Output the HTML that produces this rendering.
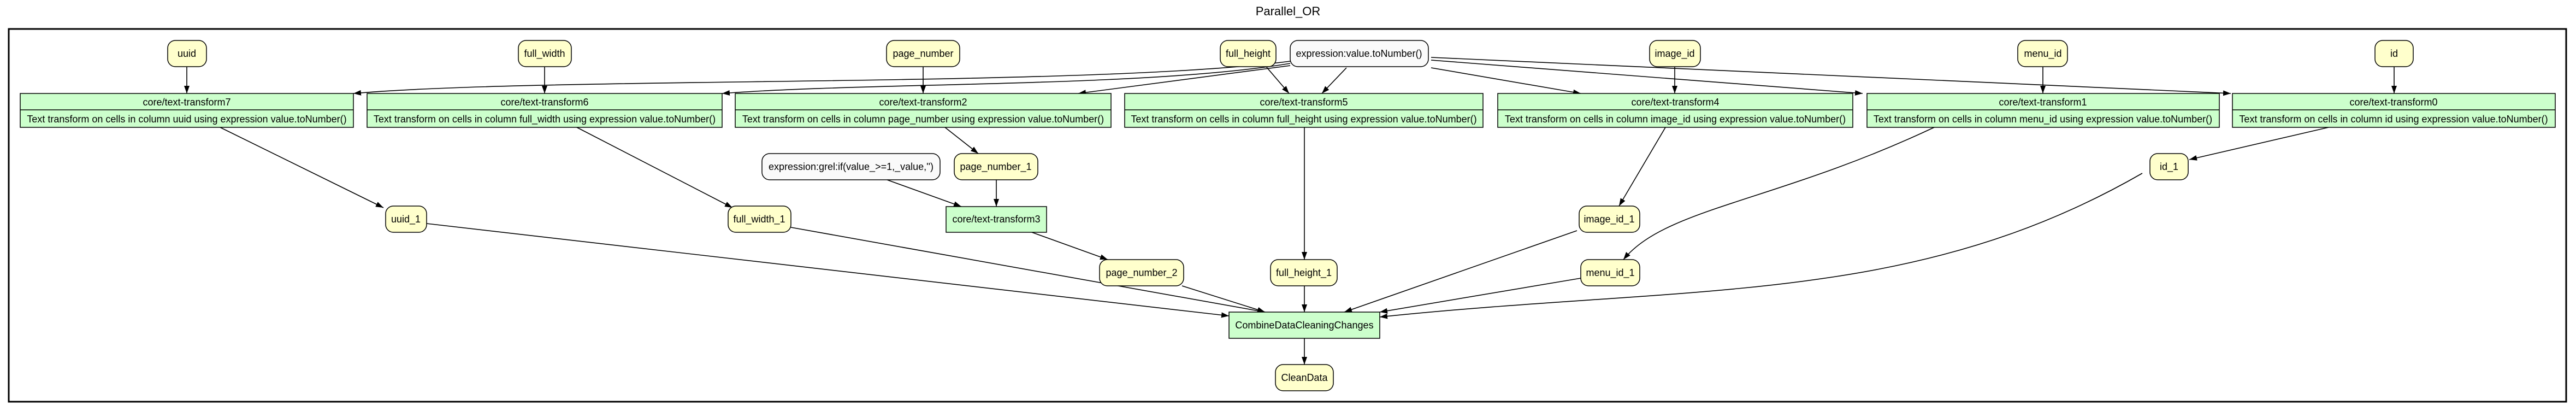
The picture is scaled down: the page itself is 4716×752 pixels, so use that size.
<!DOCTYPE html>
<html><head><meta charset="utf-8"><style>
html,body{margin:0;padding:0;background:#fff;}
svg{display:block;}
text{font-family:"Liberation Sans",Arial,sans-serif;font-size:18px;fill:#000;}
.y{fill:#ffffcc;stroke:#000;stroke-width:1.5;}
.w{fill:#fafafa;stroke:#000;stroke-width:1.5;}
.g{fill:#ccffcc;stroke:#000;stroke-width:1.5;}
.e{fill:none;stroke:#000;stroke-width:1.6;}
</style></head><body>
<svg width="4716" height="752" viewBox="0 0 4716 752" xmlns="http://www.w3.org/2000/svg">
<defs><marker id="a" viewBox="0 0 14 10" refX="14" refY="5" markerWidth="14" markerHeight="10" markerUnits="userSpaceOnUse" orient="auto"><path d="M0,0 L14,5 L0,10 z" fill="#000"/></marker></defs>
<text x="2358" y="28" text-anchor="middle" style="font-size:22px">Parallel_OR</text>
<rect x="16" y="53" width="4682" height="682" fill="none" stroke="#000" stroke-width="3"/>

<!-- edges -->
<g class="e" marker-end="url(#a)">
<path d="M342,122 L342,171"/>
<path d="M997,122 L997,171"/>
<path d="M1690,122 L1690,171"/>
<path d="M3066,122 L3066,171"/>
<path d="M3740,122 L3740,171"/>
<path d="M4383,122 L4383,171"/>
<path d="M2318,122 L2360,171"/>
<path d="M2465,124 L2420,171"/>
<path d="M2362,120 C2000,150 1700,150 1974,171" style="display:none"/>
<path d="M2362,120 L1974,171"/>
<path d="M2362,116 C2100,160 1600,150 1322,171"/>
<path d="M2362,112 C2000,160 1000,140 647,171"/>
<path d="M2620,124 L2894,171"/>
<path d="M2620,110 L3410,171"/>
<path d="M2620,105 L4084,171"/>
<path d="M403,233 L702,380"/>
<path d="M1056,233 L1341,380"/>
<path d="M1730,233 L1791,281"/>
<path d="M2388,233 L2388,475"/>
<path d="M3049,233 L2964,377"/>
<path d="M3541,233 C3250,370 3050,380 2972,475"/>
<path d="M4263,233 L4008,292"/>
<path d="M1624,329 L1760,378"/>
<path d="M1824,329 L1824,378"/>
<path d="M1889,425 L2028,475"/>
<path d="M781,409 L2250,578"/>
<path d="M1448,416 L2316,571"/>
<path d="M2164,523 L2316,571"/>
<path d="M2388,522 L2388,571"/>
<path d="M2887,422 L2461,571"/>
<path d="M2894,509 L2526,571"/>
<path d="M3922,317 C3500,560 3100,520 2526,580"/>
<path d="M2388,619 L2388,667"/>
</g>

<!-- top input nodes -->
<rect class="y" x="307" y="74" width="71" height="48" rx="14"/><text x="342" y="104" text-anchor="middle">uuid</text>
<rect class="y" x="949" y="74" width="97" height="48" rx="14"/><text x="997" y="104" text-anchor="middle">full_width</text>
<rect class="y" x="1623" y="74" width="134" height="48" rx="14"/><text x="1690" y="104" text-anchor="middle">page_number</text>
<rect class="y" x="2234" y="74" width="102" height="48" rx="14"/><text x="2285" y="104" text-anchor="middle">full_height</text>
<rect class="w" x="2362" y="74" width="253" height="48" rx="14"/><text x="2488" y="104" text-anchor="middle">expression:value.toNumber()</text>
<rect class="y" x="3020" y="74" width="93" height="48" rx="14"/><text x="3066" y="104" text-anchor="middle">image_id</text>
<rect class="y" x="3694" y="74" width="91" height="48" rx="14"/><text x="3740" y="104" text-anchor="middle">menu_id</text>
<rect class="y" x="4348" y="74" width="70" height="48" rx="14"/><text x="4383" y="104" text-anchor="middle">id</text>

<!-- transforms -->
<g>
<rect class="g" x="37" y="171" width="610" height="62"/><line x1="37" y1="201" x2="647" y2="201" stroke="#000" stroke-width="1.5"/>
<text x="342" y="193" text-anchor="middle">core/text-transform7</text>
<text x="342" y="224" text-anchor="middle">Text transform on cells in column uuid using expression value.toNumber()</text>

<rect class="g" x="672" y="171" width="650" height="62"/><line x1="672" y1="201" x2="1322" y2="201" stroke="#000" stroke-width="1.5"/>
<text x="997" y="193" text-anchor="middle">core/text-transform6</text>
<text x="997" y="224" text-anchor="middle">Text transform on cells in column full_width using expression value.toNumber()</text>

<rect class="g" x="1346" y="171" width="688" height="62"/><line x1="1346" y1="201" x2="2034" y2="201" stroke="#000" stroke-width="1.5"/>
<text x="1690" y="193" text-anchor="middle">core/text-transform2</text>
<text x="1690" y="224" text-anchor="middle">Text transform on cells in column page_number using expression value.toNumber()</text>

<rect class="g" x="2059" y="171" width="656" height="62"/><line x1="2059" y1="201" x2="2715" y2="201" stroke="#000" stroke-width="1.5"/>
<text x="2387" y="193" text-anchor="middle">core/text-transform5</text>
<text x="2387" y="224" text-anchor="middle">Text transform on cells in column full_height using expression value.toNumber()</text>

<rect class="g" x="2742" y="171" width="650" height="62"/><line x1="2742" y1="201" x2="3392" y2="201" stroke="#000" stroke-width="1.5"/>
<text x="3067" y="193" text-anchor="middle">core/text-transform4</text>
<text x="3067" y="224" text-anchor="middle">Text transform on cells in column image_id using expression value.toNumber()</text>

<rect class="g" x="3418" y="171" width="645" height="62"/><line x1="3418" y1="201" x2="4063" y2="201" stroke="#000" stroke-width="1.5"/>
<text x="3740" y="193" text-anchor="middle">core/text-transform1</text>
<text x="3740" y="224" text-anchor="middle">Text transform on cells in column menu_id using expression value.toNumber()</text>

<rect class="g" x="4087" y="171" width="591" height="62"/><line x1="4087" y1="201" x2="4678" y2="201" stroke="#000" stroke-width="1.5"/>
<text x="4382" y="193" text-anchor="middle">core/text-transform0</text>
<text x="4382" y="224" text-anchor="middle">Text transform on cells in column id using expression value.toNumber()</text>
</g>

<!-- middle nodes -->
<rect class="w" x="1395" y="281" width="326" height="48" rx="14"/><text x="1558" y="311" text-anchor="middle">expression:grel:if(value_&gt;=1,_value,'')</text>
<rect class="y" x="1747" y="281" width="153" height="48" rx="14"/><text x="1823" y="311" text-anchor="middle">page_number_1</text>
<rect class="y" x="3936" y="281" width="70" height="48" rx="14"/><text x="3971" y="311" text-anchor="middle">id_1</text>

<rect class="y" x="706" y="377" width="75" height="48" rx="14"/><text x="743" y="407" text-anchor="middle">uuid_1</text>
<rect class="y" x="1333" y="377" width="115" height="48" rx="14"/><text x="1390" y="407" text-anchor="middle">full_width_1</text>
<rect class="g" x="1732" y="378" width="184" height="47"/><text x="1824" y="407" text-anchor="middle">core/text-transform3</text>
<rect class="y" x="2891" y="377" width="111" height="48" rx="14"/><text x="2946" y="407" text-anchor="middle">image_id_1</text>

<rect class="y" x="2013" y="475" width="154" height="48" rx="14"/><text x="2090" y="505" text-anchor="middle">page_number_2</text>
<rect class="y" x="2326" y="475" width="122" height="48" rx="14"/><text x="2387" y="505" text-anchor="middle">full_height_1</text>
<rect class="y" x="2894" y="475" width="108" height="48" rx="14"/><text x="2948" y="505" text-anchor="middle">menu_id_1</text>

<rect class="g" x="2250" y="571" width="276" height="48"/><text x="2388" y="601" text-anchor="middle">CombineDataCleaningChanges</text>
<rect class="y" x="2335" y="667" width="106" height="48" rx="14"/><text x="2388" y="697" text-anchor="middle">CleanData</text>
</svg>
</body></html>
